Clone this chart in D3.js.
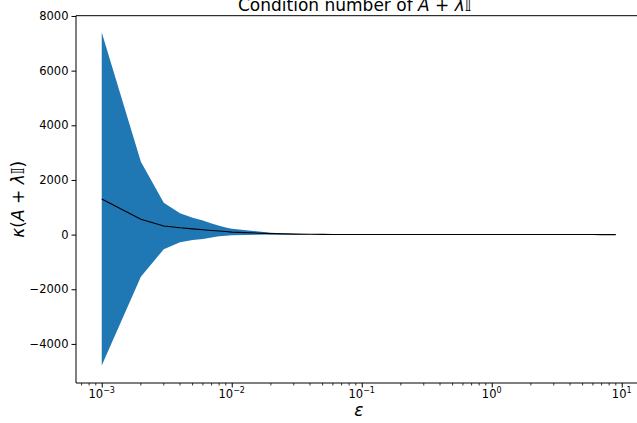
<!DOCTYPE html>
<html>
<head>
<meta charset="utf-8">
<script src="https://cdn.jsdelivr.net/npm/d3@7"></script>
<style>
  body { margin: 0; background: #fff; }
  svg { display: block; font-family: "DejaVu Sans", sans-serif; }
</style>
</head>
<body>
<div id="chart"></div>
<script>
// epsilon values: 1..9 x 10^-3 .. 10^0
var epsilons = [
  0.001, 0.002, 0.003, 0.004, 0.005, 0.006, 0.007, 0.008, 0.009,
  0.01, 0.02, 0.03, 0.04, 0.05, 0.06, 0.07, 0.08, 0.09,
  0.1, 0.2, 0.3, 0.4, 0.5, 0.6, 0.7, 0.8, 0.9,
  1, 2, 3, 4, 5, 6, 7, 8, 9
];
// mean condition number
var meanValues = [
  1300, 558, 315, 250, 210, 180, 150, 130, 112,
  92, 36, 18, 11, 8, 6, 5, 4, 3.5,
  3, 2.5, 2, 1.8, 1.6, 1.5, 1.4, 1.3, 1.3,
  1.2, 1.2, 1.1, 1.1, 1.1, 1.1, 1.0, 1.0, 1.0
];
// standard deviation (band = mean +/- std)
var stdValues = [
  6093, 2104, 848, 530, 410, 340, 255, 190, 150,
  120, 30, 12, 6, 4, 3, 2, 1.5, 1,
  0.8, 0.6, 0.5, 0.4, 0.3, 0.3, 0.2, 0.2, 0.2,
  0.1, 0.1, 0.1, 0.1, 0.1, 0.1, 0.1, 0.1, 0.1
];
var yTicks = [-4000, -2000, 0, 2000, 4000, 6000, 8000];
var xTicks = [-3, -2, -1, 0, 1];

var data = epsilons.map(function(e, i) {
  return { x: e, mean: meanValues[i], std: stdValues[i] };
});

var width = 637, height = 423;
var margin = { top: 15.7, left: 76, bottom: 383, right: 641.5 };

var svg = d3.select("#chart").append("svg")
  .attr("width", width)
  .attr("height", height);

var x = d3.scaleLog()
  .domain([Math.pow(10, -3.198), Math.pow(10, 1.152)])
  .range([margin.left, margin.right]);

var y = d3.scaleLinear()
  .domain([-5430, 8010])
  .range([margin.bottom, margin.top]);

var area = d3.area()
  .x(function(d) { return x(d.x); })
  .y0(function(d) { return y(d.mean - d.std); })
  .y1(function(d) { return y(d.mean + d.std); });

var line = d3.line()
  .x(function(d) { return x(d.x); })
  .y(function(d) { return y(d.mean); });

svg.append("path")
  .datum(data)
  .attr("d", area)
  .attr("fill", "#1f77b4");

svg.append("path")
  .datum(data)
  .attr("d", line)
  .attr("fill", "none")
  .attr("stroke", "#000")
  .attr("stroke-width", 1.1);

// y axis
var yAxis = svg.append("g")
  .attr("transform", "translate(" + margin.left + ",0)")
  .call(d3.axisLeft(y).tickValues(yTicks).tickSize(4.5).tickPadding(3)
    .tickFormat(function(d) { return d < 0 ? "\u2212" + Math.abs(d) : String(d); }));
yAxis.select(".domain").remove();
yAxis.selectAll("text").attr("font-size", "11.5px").attr("fill", "#000")
  .attr("font-family", "DejaVu Sans");
yAxis.selectAll("line").attr("stroke", "#000");

// x axis major ticks
var xAxis = svg.append("g")
  .attr("transform", "translate(0," + margin.bottom + ")")
  .call(d3.axisBottom(x).tickValues(xTicks.map(function(p) { return Math.pow(10, p); }))
    .tickSize(4.5).tickFormat(""));
xAxis.select(".domain").remove();
xAxis.selectAll("line").attr("stroke", "#000");

// minor ticks
var minor = [];
[-4, -3, -2, -1, 0, 1].forEach(function(p) {
  for (var k = 2; k <= 9; k++) {
    var v = k * Math.pow(10, p);
    if (v > x.domain()[0] && v < x.domain()[1]) minor.push(v);
  }
});
svg.append("g").selectAll("line").data(minor).enter().append("line")
  .attr("x1", function(d) { return x(d); })
  .attr("x2", function(d) { return x(d); })
  .attr("y1", margin.bottom)
  .attr("y2", margin.bottom + 2.5)
  .attr("stroke", "#000")
  .attr("stroke-width", 0.8);

// x tick labels 10^p
var xl = svg.append("g").selectAll("text").data(xTicks).enter().append("text")
  .attr("x", function(p) { return x(Math.pow(10, p)); })
  .attr("y", 398)
  .attr("text-anchor", "middle")
  .attr("font-size", "11.5px")
  .attr("fill", "#000");
xl.append("tspan").text("10");
xl.append("tspan")
  .attr("dy", -5)
  .attr("font-size", "8px")
  .text(function(p) { return p < 0 ? "\u2212" + Math.abs(p) : String(p); });

// spines
svg.append("line")
  .attr("x1", margin.left).attr("x2", margin.left)
  .attr("y1", margin.top).attr("y2", margin.bottom)
  .attr("stroke", "#000").attr("stroke-width", 1);
svg.append("line")
  .attr("x1", margin.left).attr("x2", margin.right)
  .attr("y1", margin.bottom).attr("y2", margin.bottom)
  .attr("stroke", "#000").attr("stroke-width", 1);
svg.append("line")
  .attr("x1", margin.left).attr("x2", margin.right)
  .attr("y1", margin.top).attr("y2", margin.top)
  .attr("stroke", "#000").attr("stroke-width", 1);
svg.append("line")
  .attr("x1", margin.right).attr("x2", margin.right)
  .attr("y1", margin.top).attr("y2", margin.bottom)
  .attr("stroke", "#000").attr("stroke-width", 1);

var cx = (margin.left + margin.right) / 2;

// title (sits at the top edge, as in the source figure)
var title = svg.append("text")
  .attr("x", cx - 4)
  .attr("y", 11)
  .attr("text-anchor", "middle")
  .attr("font-size", "17px")
  .attr("fill", "#000");
title.append("tspan").text("Condition number of ");
title.append("tspan").attr("font-style", "italic").text("A");
title.append("tspan").text(" + ");
title.append("tspan").attr("font-style", "italic").text("\u03bb\ud835\udd40");

// x label
svg.append("text")
  .attr("x", cx)
  .attr("y", 416)
  .attr("text-anchor", "middle")
  .attr("font-size", "17px")
  .attr("font-style", "italic")
  .attr("fill", "#000")
  .text("\u03b5");

// y label
var ylab = svg.append("text")
  .attr("transform", "translate(24," + ((margin.top + margin.bottom) / 2) + ") rotate(-90)")
  .attr("text-anchor", "middle")
  .attr("font-size", "17px")
  .attr("fill", "#000");
ylab.append("tspan").attr("font-style", "italic").text("\u03ba");
ylab.append("tspan").text("(");
ylab.append("tspan").attr("font-style", "italic").text("A");
ylab.append("tspan").text(" + ");
ylab.append("tspan").attr("font-style", "italic").text("\u03bb\ud835\udd40");
ylab.append("tspan").text(")");
</script>
</body>
</html>
